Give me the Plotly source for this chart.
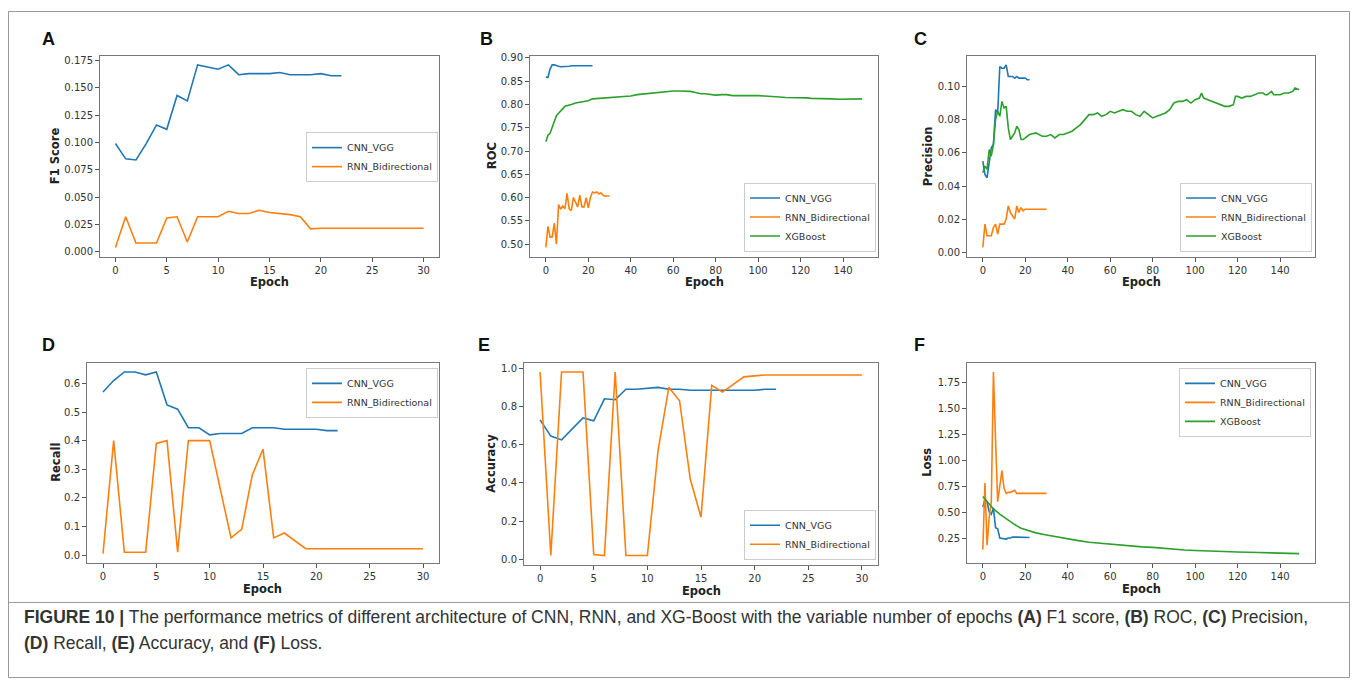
import plotly.graph_objects as go

# ---------------- data ----------------
epochs_cnn = list(range(23))
epochs_rnn = list(range(31))

f1_cnn = [0.099, 0.085, 0.084, 0.099, 0.116, 0.112, 0.143, 0.138, 0.171, 0.169, 0.167, 0.171,
          0.162, 0.163, 0.163, 0.163, 0.164, 0.162, 0.162, 0.162, 0.163, 0.161, 0.161]
f1_rnn = [0.004, 0.032, 0.008, 0.008, 0.008, 0.031, 0.032, 0.009, 0.032, 0.032, 0.032, 0.037,
          0.035, 0.035, 0.038, 0.036, 0.035, 0.034, 0.032, 0.021, 0.0215, 0.0215, 0.0215, 0.0215,
          0.0215, 0.0215, 0.0215, 0.0215, 0.0215, 0.0215, 0.0215]

roc_cnn = [0.859, 0.858, 0.876, 0.885, 0.885, 0.883, 0.882, 0.881, 0.881, 0.881, 0.882, 0.882,
           0.883, 0.883, 0.883, 0.883, 0.883, 0.883, 0.883, 0.883, 0.883, 0.883, 0.883]
roc_rnn = [0.493, 0.538, 0.515, 0.515, 0.545, 0.500, 0.585, 0.575, 0.582, 0.576, 0.609, 0.576,
           0.572, 0.600, 0.590, 0.580, 0.605, 0.580, 0.580, 0.600, 0.578, 0.600, 0.612, 0.610,
           0.612, 0.608, 0.610, 0.605, 0.603, 0.603, 0.604]
xgb_roc_x = [0, 1, 2, 3, 4, 5, 6, 7, 8, 9, 10, 12, 14, 16, 18, 20, 22, 25, 28, 30, 33, 35, 38, 40,
             43, 45, 48, 50, 53, 55, 58, 60, 63, 65, 68, 70, 73, 75, 78, 80, 83, 85, 88, 90, 93,
             95, 98, 100, 103, 105, 108, 110, 113, 115, 118, 120, 123, 125, 128, 130, 133, 135,
             138, 140, 143, 145, 149]
xgb_roc = [0.720, 0.734, 0.738, 0.752, 0.766, 0.776, 0.781, 0.785, 0.791, 0.796, 0.797, 0.800,
           0.803, 0.805, 0.807, 0.808, 0.812, 0.813, 0.814, 0.815, 0.816, 0.817, 0.818, 0.818,
           0.821, 0.822, 0.823, 0.825, 0.827, 0.828, 0.829, 0.829, 0.829, 0.829, 0.828, 0.826,
           0.823, 0.823, 0.821, 0.820, 0.821, 0.821, 0.819, 0.819, 0.820, 0.820, 0.820, 0.819,
           0.818, 0.817, 0.817, 0.816, 0.815, 0.815, 0.814, 0.814, 0.814, 0.813, 0.813, 0.813,
           0.812, 0.812, 0.811, 0.811, 0.811, 0.811, 0.812]

prec_cnn = [0.055, 0.047, 0.045, 0.055, 0.063, 0.065, 0.086, 0.084, 0.112, 0.111, 0.111, 0.113,
            0.106, 0.106, 0.106, 0.105, 0.106, 0.105, 0.105, 0.105, 0.105, 0.104, 0.104]
prec_rnn = [0.003, 0.017, 0.010, 0.010, 0.010, 0.015, 0.017, 0.011, 0.017, 0.017, 0.017, 0.020,
            0.028, 0.024, 0.022, 0.020, 0.028, 0.024, 0.027, 0.025, 0.026, 0.026, 0.026, 0.026,
            0.026, 0.026, 0.026, 0.026, 0.026, 0.026, 0.026]
xgb_prec_x = [0, 1, 2, 3, 4, 5, 6, 7, 8, 9, 10, 11, 12, 13, 14, 15, 16, 17, 18, 19, 20, 22, 25,
              28, 30, 32, 34, 36, 38, 40, 42, 44, 46, 48, 50, 52, 54, 56, 58, 60, 62, 64, 66, 68,
              70, 72, 74, 76, 78, 80, 82, 84, 86, 88, 90, 92, 94, 96, 98, 100, 102, 103, 104,
              106, 108, 110, 112, 114, 116, 118, 119, 120, 122, 124, 126, 128, 130, 132, 133,
              134, 136, 137, 140, 142, 144, 146, 147, 149]
xgb_prec = [0.048, 0.052, 0.050, 0.062, 0.058, 0.065, 0.080, 0.085, 0.082, 0.091, 0.087, 0.088,
            0.075, 0.068, 0.070, 0.072, 0.076, 0.074, 0.068, 0.068, 0.069, 0.071, 0.072, 0.070,
            0.070, 0.071, 0.069, 0.071, 0.071, 0.072, 0.073, 0.075, 0.077, 0.080, 0.083, 0.083,
            0.084, 0.082, 0.083, 0.085, 0.084, 0.085, 0.086, 0.085, 0.085, 0.083, 0.082, 0.085,
            0.083, 0.081, 0.082, 0.083, 0.084, 0.086, 0.090, 0.091, 0.091, 0.092, 0.090, 0.092,
            0.093, 0.096, 0.093, 0.092, 0.091, 0.090, 0.089, 0.088, 0.088, 0.089, 0.094, 0.094,
            0.093, 0.094, 0.094, 0.095, 0.096, 0.096, 0.095, 0.095, 0.097, 0.095, 0.095, 0.096,
            0.096, 0.097, 0.099, 0.098]

rec_cnn = [0.57, 0.61, 0.64, 0.64, 0.63, 0.64, 0.525, 0.51, 0.445, 0.445, 0.42, 0.425, 0.425,
           0.425, 0.445, 0.445, 0.445, 0.44, 0.44, 0.44, 0.44, 0.435, 0.435]
rec_rnn = [0.005, 0.40, 0.01, 0.01, 0.01, 0.39, 0.40, 0.01, 0.40, 0.40, 0.40, 0.23, 0.06, 0.09,
           0.28, 0.37, 0.06, 0.077, 0.05, 0.022, 0.022, 0.022, 0.022, 0.022, 0.022, 0.022, 0.022,
           0.022, 0.022, 0.022, 0.022]

acc_cnn = [0.73, 0.645, 0.625, 0.68, 0.74, 0.725, 0.84, 0.835, 0.89, 0.89, 0.895, 0.90, 0.89,
           0.89, 0.885, 0.885, 0.885, 0.885, 0.885, 0.885, 0.885, 0.89, 0.89]
acc_rnn = [0.98, 0.02, 0.98, 0.98, 0.98, 0.025, 0.02, 0.98, 0.02, 0.02, 0.02, 0.57, 0.90, 0.83,
           0.42, 0.22, 0.91, 0.875, 0.915, 0.955, 0.96, 0.965, 0.965, 0.965, 0.965, 0.965, 0.965,
           0.965, 0.965, 0.965, 0.965]

loss_cnn = [0.55, 0.62, 0.60, 0.50, 0.48, 0.54, 0.35, 0.34, 0.25, 0.245, 0.24, 0.24, 0.25, 0.25,
            0.26, 0.26, 0.26, 0.255, 0.255, 0.255, 0.255, 0.255, 0.255]
loss_rnn = [0.14, 0.78, 0.18, 0.45, 0.60, 1.85, 1.20, 0.60, 0.75, 0.90, 0.73, 0.68, 0.69, 0.69,
            0.70, 0.71, 0.68, 0.68, 0.68, 0.68, 0.68, 0.68, 0.68, 0.68, 0.68, 0.68, 0.68, 0.68,
            0.68, 0.68, 0.68]
xgb_loss_x = [0, 2, 5, 8, 10, 12, 15, 18, 20, 25, 30, 35, 40, 45, 50, 55, 60, 65, 70, 75, 80, 85,
              90, 95, 100, 110, 120, 130, 140, 149]
xgb_loss = [0.65, 0.60, 0.53, 0.48, 0.45, 0.42, 0.38, 0.345, 0.33, 0.30, 0.28, 0.26, 0.24,
            0.225, 0.21, 0.20, 0.19, 0.18, 0.17, 0.165, 0.16, 0.15, 0.14, 0.135, 0.13, 0.12,
            0.115, 0.11, 0.105, 0.10]

series_names = ["CNN_VGG", "RNN_Bidirectional", "XGBoost"]
y_titles = ["F1 Score", "ROC", "Precision", "Recall", "Accuracy", "Loss"]
panel_letters = ["A", "B", "C", "D", "E", "F"]

ticks_short = [0, 5, 10, 15, 20, 25, 30]
ticks_long = [0, 20, 40, 60, 80, 100, 120, 140]
yt_f1 = [0.000, 0.025, 0.050, 0.075, 0.100, 0.125, 0.150, 0.175]
yt_roc = [0.50, 0.55, 0.60, 0.65, 0.70, 0.75, 0.80, 0.85, 0.90]
yt_prec = [0.00, 0.02, 0.04, 0.06, 0.08, 0.10]
yt_rec = [0.0, 0.1, 0.2, 0.3, 0.4, 0.5, 0.6]
yt_acc = [0.0, 0.2, 0.4, 0.6, 0.8, 1.0]
yt_loss = [0.25, 0.50, 0.75, 1.00, 1.25, 1.50, 1.75]

caption_l1 = ("<b>FIGURE 10 |</b> The performance metrics of different architecture of CNN, RNN, and "
              "XG-Boost with the variable number of epochs <b>(A)</b> F1 score, <b>(B)</b> ROC, "
              "<b>(C)</b> Precision,")
caption_l2 = "<b>(D)</b> Recall, <b>(E)</b> Accuracy, and <b>(F)</b> Loss."

# ---------------- layout geometry ----------------
# the page body has an 8px default margin; the figure fills the remaining area
OFF = 8
W, H = 1358 - 2 * OFF, 687 - 2 * OFF
COLORS = ["#1f77b4", "#ff7f0e", "#2ca02c"]

# plot boxes in window pixels (left, right, top, bottom)
boxes = [(100, 439, 53, 255), (530, 878, 53, 255), (967, 1315, 53, 255),
         (87, 439, 362, 563), (524, 878, 362, 565), (967, 1315, 362, 563)]
ytitle_x = [55, 492, 928, 56, 491, 927]
letter_xy = [(48, 36), (486, 36), (920, 36), (48, 344), (484, 344), (919, 344)]
# legend anchor (x right px, y px, yanchor)
legend_pos = [(438, 155, "middle"), (876, 250, "bottom"), (1312, 250, "bottom"),
              (438, 367, "top"), (876, 560, "bottom"), (1311, 367, "top")]


def px_x(p):
    return (p - OFF) / W


def px_y(p):
    return 1 - (p - OFF) / H


def padded(vals):
    lo, hi = min(vals), max(vals)
    m = (hi - lo) * 0.05
    return [lo - m, hi + m]


panels = [
    ([(epochs_cnn, f1_cnn), (epochs_rnn, f1_rnn)], ticks_short, yt_f1, "{:.3f}"),
    ([(epochs_cnn, roc_cnn), (epochs_rnn, roc_rnn), (xgb_roc_x, xgb_roc)], ticks_long, yt_roc, "{:.2f}"),
    ([(epochs_cnn, prec_cnn), (epochs_rnn, prec_rnn), (xgb_prec_x, xgb_prec)], ticks_long, yt_prec, "{:.2f}"),
    ([(epochs_cnn, rec_cnn), (epochs_rnn, rec_rnn)], ticks_short, yt_rec, "{:.1f}"),
    ([(epochs_cnn, acc_cnn), (epochs_rnn, acc_rnn)], ticks_short, yt_acc, "{:.1f}"),
    ([(epochs_cnn, loss_cnn), (epochs_rnn, loss_rnn), (xgb_loss_x, xgb_loss)], ticks_long, yt_loss, "{:.2f}"),
]

fig = go.Figure()
layout = dict(width=W, height=H, margin=dict(l=0, r=0, t=0, b=0),
              paper_bgcolor="white", plot_bgcolor="white", showlegend=True,
              font=dict(family="DejaVu Sans", color="#333"))
annotations = []
shapes = []

tick_font = dict(family="DejaVu Sans", size=10, color="#333")
for i, (series, xt, yt, fmt) in enumerate(panels):
    k = "" if i == 0 else str(i + 1)
    leg = "legend" if i == 0 else "legend" + str(i + 1)
    all_x, all_y = [], []
    for j, (xs, ys) in enumerate(series):
        all_x += xs
        all_y += ys
        fig.add_trace(go.Scatter(x=xs, y=ys, mode="lines", name=series_names[j],
                                 line=dict(color=COLORS[j], width=1.6),
                                 xaxis="x" + k, yaxis="y" + k, legend=leg))
    l, r, t, b = boxes[i]
    axis_common = dict(showline=True, mirror=True, linecolor="#777", linewidth=1,
                       ticks="outside", ticklen=4, tickcolor="#555", showgrid=False,
                       zeroline=False, tickfont=tick_font)
    layout["xaxis" + k] = dict(domain=[px_x(l), px_x(r)], anchor="y" + k, range=padded(all_x),
                               tickvals=xt, ticktext=[str(v) for v in xt], **axis_common)
    layout["yaxis" + k] = dict(domain=[px_y(b), px_y(t)], anchor="x" + k, range=padded(all_y),
                               tickvals=yt, ticktext=[fmt.format(v) for v in yt], **axis_common)
    lx, ly, ya = legend_pos[i]
    layout[leg] = dict(x=px_x(lx), y=px_y(ly), xanchor="right", yanchor=ya,
                       bgcolor="rgba(255,255,255,0.8)", bordercolor="#ccc", borderwidth=1,
                       font=dict(family="DejaVu Sans", size=9.5, color="#333"),
                       itemwidth=30, tracegroupgap=0)
    # axis titles
    annotations.append(dict(text="<b>Epoch</b>", x=px_x((l + r) / 2), y=px_y(b + 26),
                            xref="paper", yref="paper", showarrow=False, xanchor="center",
                            yanchor="middle", font=dict(family="DejaVu Sans", size=11.5, color="#222")))
    annotations.append(dict(text="<b>" + y_titles[i] + "</b>", x=px_x(ytitle_x[i]),
                            y=px_y((t + b) / 2), xref="paper", yref="paper", showarrow=False,
                            textangle=-90, xanchor="center", yanchor="middle",
                            font=dict(family="DejaVu Sans", size=11.5, color="#222")))
    lxp, lyp = letter_xy[i]
    annotations.append(dict(text="<b>" + panel_letters[i] + "</b>", x=px_x(lxp), y=px_y(lyp),
                            xref="paper", yref="paper", showarrow=False, xanchor="center",
                            yanchor="middle", font=dict(family="Liberation Sans", size=18, color="#111")))

# caption
cap_font = dict(family="Liberation Sans", size=17.5, color="#333")
for txt, yy in [(caption_l1, 618), (caption_l2, 644)]:
    annotations.append(dict(text=txt, x=px_x(22), y=px_y(yy), xref="paper", yref="paper",
                            showarrow=False, xanchor="left", yanchor="middle", align="left",
                            font=cap_font))

# outer frame and caption separator
shapes.append(dict(type="rect", xref="paper", yref="paper", x0=px_x(8.5), x1=px_x(1349.5),
                   y0=px_y(678.5), y1=px_y(8.5), line=dict(color="#999", width=1)))
shapes.append(dict(type="line", xref="paper", yref="paper", x0=px_x(8.5), x1=px_x(1349.5),
                   y0=px_y(603), y1=px_y(603), line=dict(color="#999", width=1)))

layout["annotations"] = annotations
layout["shapes"] = shapes
fig.update_layout(**layout)
fig.write_html("out.html")
